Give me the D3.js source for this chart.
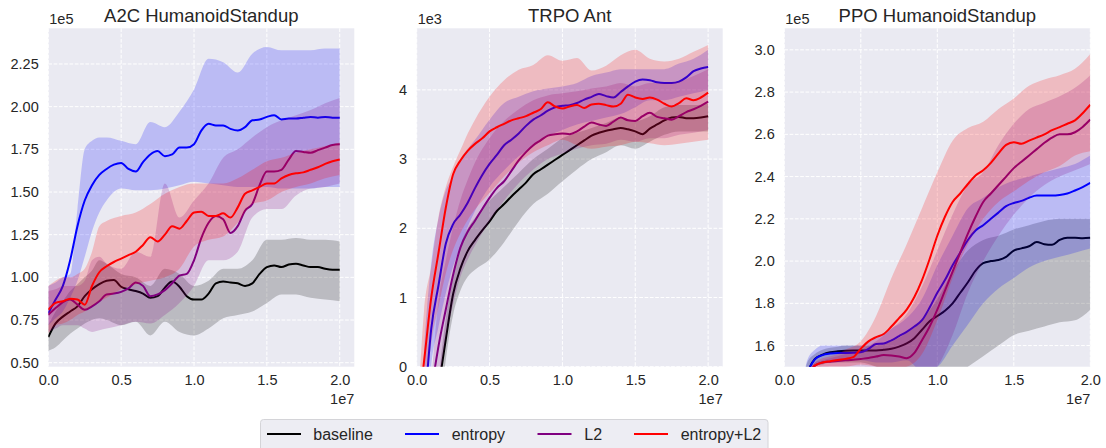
<!DOCTYPE html>
<html>
<head>
<meta charset="utf-8">
<script src="https://cdn.jsdelivr.net/npm/d3@7"></script>
<style>
  html, body { margin: 0; padding: 0; background: #ffffff; }
  svg { display: block; }
</style>
</head>
<body>
<svg id="chart" width="1106" height="448"></svg>
<script>
// ---------------- DATA ----------------
const seriesNames = ["baseline", "entropy", "L2", "entropy+L2"];
const seriesColors = ["#000000", "#0000ff", "#800080", "#ff0000"];
const panelTitles = ["A2C HumanoidStandup", "TRPO Ant", "PPO HumanoidStandup"];
const yScaleLabels = ["1e5", "1e3", "1e5"];
const xScaleLabel = "1e7";
const xTicks = [0, 0.5, 1.0, 1.5, 2.0];
const a2cYTicks = [0.5, 0.75, 1.0, 1.25, 1.5, 1.75, 2.0, 2.25];
const trpoYTicks = [0, 1, 2, 3, 4];
const ppoYTicks = [1.6, 1.8, 2.0, 2.2, 2.4, 2.6, 2.8, 3.0];

// timesteps (x 1e7) for mean curves
const tMean = [0,0.05,0.1,0.15,0.2,0.25,0.3,0.35,0.4,0.45,0.5,0.55,0.6,0.65,0.7,0.75,0.8,0.85,0.9,0.95,
  1.0,1.05,1.1,1.15,1.2,1.25,1.3,1.35,1.4,1.45,1.5,1.55,1.6,1.65,1.7,1.75,1.8,1.85,1.9,1.95,2.0];
// timesteps (x 1e7) for the shaded bands
const tBand = [0,0.05,0.1,0.15,0.2,0.25,0.3,0.35,0.4,0.5,0.6,0.7,0.8,0.9,1.0,1.1,1.2,1.3,1.4,1.5,1.6,1.7,1.8,1.9,2.0];

// A2C HumanoidStandup (x 1e5)
const a2cBaseline = [0.65,0.73,0.77,0.80,0.83,0.89,0.93,0.96,0.98,0.985,0.945,0.93,0.92,0.905,0.88,0.89,0.94,0.975,0.945,0.89,
  0.87,0.87,0.905,0.965,0.975,0.97,0.965,0.95,0.965,1.02,1.06,1.07,1.06,1.075,1.08,1.07,1.06,1.06,1.05,1.045,1.045];
const a2cEntropy = [0.79,0.87,0.95,1.10,1.30,1.45,1.54,1.60,1.635,1.66,1.67,1.635,1.62,1.675,1.72,1.74,1.71,1.72,1.76,1.76,
  1.78,1.86,1.90,1.89,1.89,1.87,1.86,1.88,1.92,1.925,1.94,1.95,1.925,1.93,1.93,1.935,1.94,1.935,1.94,1.935,1.935];
const a2cL2 = [0.78,0.82,0.855,0.87,0.84,0.81,0.83,0.86,0.90,0.905,0.915,0.935,0.97,0.95,0.89,0.90,0.925,0.965,1.01,1.02,
  1.10,1.23,1.32,1.36,1.34,1.26,1.30,1.39,1.43,1.54,1.62,1.62,1.63,1.69,1.74,1.735,1.73,1.745,1.76,1.775,1.78];
const a2cEntL2 = [0.81,0.85,0.86,0.875,0.87,0.84,0.95,1.03,1.065,1.09,1.11,1.13,1.15,1.19,1.235,1.21,1.25,1.30,1.285,1.33,
  1.38,1.385,1.36,1.36,1.375,1.35,1.41,1.49,1.51,1.53,1.55,1.55,1.58,1.60,1.61,1.615,1.63,1.645,1.665,1.68,1.69];
const a2cBaselineLo = [0.57,0.59,0.63,0.67,0.70,0.73,0.75,0.76,0.75,0.72,0.74,0.66,0.74,0.68,0.66,0.70,0.76,0.78,0.80,0.85,0.90,0.90,0.88,0.87,0.86];
const a2cBaselineHi = [0.72,0.80,0.86,0.92,0.96,1.00,1.04,1.10,1.08,1.02,1.00,0.95,1.05,1.02,0.95,0.98,1.05,1.05,1.10,1.22,1.22,1.23,1.22,1.22,1.21];
const a2cEntropyLo = [0.72,0.76,0.80,0.88,0.98,1.12,1.27,1.38,1.45,1.52,1.51,1.51,1.52,1.54,1.56,1.55,1.54,1.53,1.53,1.53,1.52,1.52,1.52,1.53,1.53];
const a2cEntropyHi = [0.95,0.97,1.00,1.02,1.40,1.75,1.80,1.82,1.82,1.80,1.78,1.91,1.88,1.97,2.10,2.28,2.26,2.20,2.31,2.35,2.33,2.33,2.33,2.34,2.34];
const a2cL2Lo = [0.68,0.70,0.72,0.72,0.72,0.70,0.68,0.69,0.70,0.72,0.74,0.73,0.78,0.85,0.95,1.10,1.10,1.15,1.35,1.40,1.40,1.48,1.52,1.53,1.55];
const a2cL2Hi = [0.92,0.93,0.95,0.95,0.95,0.98,1.10,1.12,1.08,1.05,1.15,1.12,1.55,1.35,1.45,1.55,1.70,1.75,1.82,1.88,1.92,1.95,1.98,2.02,2.05];
const a2cEntL2Lo = [0.67,0.72,0.73,0.75,0.78,0.80,0.83,0.86,0.88,0.93,0.96,0.98,1.00,1.05,1.18,1.22,1.24,1.32,1.43,1.45,1.50,1.53,1.55,1.58,1.60];
const a2cEntL2Hi = [0.95,0.98,1.00,1.00,1.02,1.05,1.15,1.30,1.33,1.36,1.38,1.43,1.49,1.53,1.55,1.55,1.55,1.58,1.63,1.68,1.70,1.73,1.75,1.77,1.79];

// TRPO Ant (x 1e3)
const trpoBaseline = [-1.5,-1.3,-1.0,-0.3,0.4,1.05,1.42,1.67,1.83,1.97,2.10,2.25,2.35,2.46,2.56,2.66,2.78,2.85,2.92,2.99,
  3.06,3.13,3.20,3.27,3.34,3.38,3.41,3.43,3.45,3.43,3.40,3.36,3.44,3.50,3.56,3.60,3.61,3.59,3.59,3.60,3.62];
const trpoEntropy = [-2.0,-0.7,0.55,1.18,1.78,2.06,2.20,2.37,2.58,2.77,2.93,3.06,3.20,3.28,3.37,3.48,3.57,3.63,3.70,3.75,
  3.77,3.78,3.81,3.86,3.90,3.94,3.91,3.89,3.97,4.05,4.12,4.15,4.14,4.11,4.10,4.10,4.12,4.18,4.27,4.31,4.33];
const trpoL2 = [-2.0,-1.5,-0.4,0.3,0.83,1.33,1.72,1.95,2.11,2.28,2.44,2.58,2.68,2.83,2.98,3.10,3.20,3.27,3.34,3.36,
  3.37,3.36,3.40,3.47,3.53,3.50,3.48,3.54,3.60,3.56,3.55,3.62,3.67,3.61,3.59,3.57,3.62,3.68,3.72,3.77,3.83];
const trpoEntL2 = [-0.8,0.07,1.0,1.65,2.30,2.78,2.98,3.12,3.22,3.30,3.40,3.46,3.51,3.56,3.59,3.62,3.67,3.72,3.82,3.76,
  3.73,3.76,3.78,3.74,3.79,3.80,3.78,3.76,3.80,3.93,3.89,3.87,3.89,3.86,3.80,3.76,3.81,3.88,3.85,3.89,3.96];
const trpoBaselineLo = [-2,-2,-2,-0.8,0.1,0.75,1.1,1.3,1.4,1.55,1.8,2.1,2.35,2.5,2.68,2.85,3.0,3.1,3.2,3.15,3.25,3.35,3.4,3.4,3.4];
const trpoBaselineHi = [-2,-2,-1.5,-0.2,0.7,1.3,1.75,2.0,2.15,2.4,2.6,2.8,3.0,3.15,3.3,3.38,3.45,3.52,3.6,3.55,3.62,3.75,3.78,3.78,3.8];
const trpoEntropyLo = [-2,-1.5,0,0.58,1.06,1.45,1.73,2.02,2.25,2.6,2.84,3.04,3.18,3.33,3.42,3.5,3.55,3.6,3.65,3.75,3.85,3.85,3.9,3.95,4.0];
const trpoEntropyHi = [-2,0.2,1.5,2.15,2.55,2.75,3.0,3.15,3.28,3.57,3.81,3.9,3.98,4.02,4.05,4.1,4.2,4.25,4.3,4.3,4.3,4.3,4.38,4.45,4.58];
const trpoL2Lo = [-2,-2,-1,-0.3,0.4,0.9,1.3,1.55,1.75,2.1,2.4,2.65,2.85,3.0,3.08,3.15,3.2,3.22,3.28,3.25,3.3,3.3,3.35,3.38,3.42];
const trpoL2Hi = [-2,-1.5,-0.2,0.96,1.54,2.02,2.41,2.7,2.95,3.3,3.55,3.72,3.85,3.92,3.95,3.98,4.02,4.05,4.1,4.05,4.1,4.1,4.12,4.2,4.3];
const trpoEntL2Lo = [-1,-0.6,0.34,0.87,1.35,1.69,1.93,2.12,2.27,2.51,2.75,2.95,3.1,3.2,3.28,3.2,3.15,3.18,3.2,3.25,3.23,3.2,3.22,3.25,3.28];
const trpoEntL2Hi = [-1,0.8,1.45,2.17,2.6,2.89,3.13,3.37,3.57,3.9,4.14,4.29,4.36,4.5,4.42,4.46,4.28,4.35,4.5,4.58,4.45,4.41,4.45,4.55,4.65];

// PPO HumanoidStandup (x 1e5)
const ppoBaseline = [1.2,1.25,1.35,1.47,1.537,1.557,1.568,1.573,1.576,1.577,1.577,1.577,1.577,1.58,1.585,1.595,1.61,1.635,1.675,1.715,
  1.74,1.765,1.80,1.85,1.90,1.955,1.99,2.00,2.005,2.02,2.05,2.06,2.07,2.09,2.08,2.077,2.10,2.11,2.11,2.108,2.11];
const ppoEntropy = [1.2,1.25,1.35,1.47,1.535,1.555,1.562,1.565,1.565,1.566,1.568,1.584,1.608,1.61,1.625,1.645,1.665,1.69,1.72,1.78,
  1.85,1.91,1.98,2.04,2.10,2.145,2.17,2.20,2.23,2.26,2.275,2.285,2.30,2.31,2.31,2.31,2.313,2.32,2.334,2.35,2.37];
const ppoL2 = [1.2,1.25,1.3,1.45,1.505,1.52,1.524,1.527,1.53,1.533,1.537,1.541,1.548,1.555,1.553,1.548,1.54,1.565,1.625,1.69,
  1.77,1.86,1.95,2.04,2.13,2.21,2.28,2.32,2.36,2.40,2.44,2.47,2.50,2.53,2.56,2.585,2.60,2.60,2.61,2.635,2.67];
const ppoEntL2 = [1.2,1.25,1.3,1.45,1.505,1.52,1.526,1.532,1.537,1.545,1.585,1.62,1.64,1.655,1.69,1.73,1.77,1.83,1.91,2.01,
  2.12,2.21,2.28,2.32,2.365,2.405,2.43,2.465,2.51,2.55,2.563,2.555,2.57,2.585,2.60,2.62,2.634,2.65,2.666,2.70,2.74];
const ppoBaselineLo = [1.2,1.25,1.35,1.45,1.5,1.51,1.52,1.52,1.52,1.52,1.5,1.47,1.45,1.42,1.4,1.45,1.5,1.55,1.6,1.65,1.67,1.69,1.71,1.72,1.77];
const ppoBaselineHi = [1.2,1.25,1.35,1.52,1.56,1.58,1.59,1.595,1.6,1.6,1.6,1.62,1.66,1.72,1.82,1.95,2.05,2.1,2.12,2.15,2.17,2.19,2.2,2.2,2.2];
const ppoEntropyLo = [1.2,1.25,1.35,1.46,1.5,1.52,1.53,1.53,1.53,1.53,1.52,1.52,1.53,1.48,1.5,1.6,1.7,1.8,1.87,1.92,1.97,2.0,2.02,2.04,2.06];
const ppoEntropyHi = [1.2,1.25,1.35,1.53,1.58,1.6,1.6,1.6,1.6,1.6,1.64,1.68,1.73,1.82,1.98,2.12,2.25,2.3,2.35,2.38,2.4,2.42,2.44,2.46,2.5];
const ppoL2Lo = [1.2,1.25,1.3,1.44,1.48,1.49,1.5,1.5,1.5,1.5,1.49,1.47,1.45,1.45,1.5,1.65,1.85,2.0,2.12,2.22,2.3,2.36,2.4,2.43,2.46];
const ppoL2Hi = [1.2,1.25,1.3,1.46,1.52,1.53,1.54,1.55,1.56,1.58,1.62,1.68,1.75,1.88,2.05,2.22,2.36,2.42,2.55,2.65,2.72,2.75,2.78,2.82,2.88];
const ppoEntL2Lo = [1.2,1.25,1.3,1.44,1.48,1.5,1.5,1.5,1.5,1.51,1.5,1.49,1.5,1.56,1.72,1.92,2.08,2.2,2.28,2.33,2.38,2.42,2.45,2.5,2.52];
const ppoEntL2Hi = [1.2,1.25,1.3,1.46,1.52,1.54,1.55,1.56,1.58,1.62,1.74,1.92,2.08,2.25,2.42,2.57,2.63,2.66,2.72,2.77,2.83,2.86,2.88,2.91,2.98];

// ---------------- LAYOUT ----------------
const FONT = '"Liberation Sans", Arial, Helvetica, sans-serif';
const TEXT = "#262626";
const BG = "#eaeaf2";
const panelLefts = [48.3, 416.7, 784.3];
const panelW = 306, panelTop = 28.3, panelH = 338.4;

const panels = [
  { xMax: 2.1, yDomain: [0.4766, 2.459], yTicks: a2cYTicks, fmt: d3.format(".2f"),
    means: [a2cBaseline, a2cEntropy, a2cL2, a2cEntL2],
    lo: [a2cBaselineLo, a2cEntropyLo, a2cL2Lo, a2cEntL2Lo],
    hi: [a2cBaselineHi, a2cEntropyHi, a2cL2Hi, a2cEntL2Hi] },
  { xMax: 2.1, yDomain: [0, 4.89], yTicks: trpoYTicks, fmt: d3.format("d"),
    means: [trpoBaseline, trpoEntropy, trpoL2, trpoEntL2],
    lo: [trpoBaselineLo, trpoEntropyLo, trpoL2Lo, trpoEntL2Lo],
    hi: [trpoBaselineHi, trpoEntropyHi, trpoL2Hi, trpoEntL2Hi] },
  { xMax: 2.0, yDomain: [1.5, 3.102], yTicks: ppoYTicks, fmt: d3.format(".1f"),
    means: [ppoBaseline, ppoEntropy, ppoL2, ppoEntL2],
    lo: [ppoBaselineLo, ppoEntropyLo, ppoL2Lo, ppoEntL2Lo],
    hi: [ppoBaselineHi, ppoEntropyHi, ppoL2Hi, ppoEntL2Hi] }
];

const svg = d3.select("#chart");
const defs = svg.append("defs");

panels.forEach((p, pi) => {
  const g = svg.append("g").attr("transform", `translate(${panelLefts[pi]},${panelTop})`);
  const x = d3.scaleLinear().domain([0, p.xMax]).range([0, panelW]);
  const y = d3.scaleLinear().domain(p.yDomain).range([panelH, 0]);

  g.append("rect").attr("width", panelW).attr("height", panelH).attr("fill", BG);

  // grid
  g.append("g").selectAll("line").data(p.yTicks).join("line")
    .attr("x1", 0).attr("x2", panelW)
    .attr("y1", d => y(d)).attr("y2", d => y(d))
    .attr("stroke", "#ffffff").attr("stroke-width", 1).attr("stroke-dasharray", "3.7,1.6");
  g.append("g").selectAll("line").data(xTicks).join("line")
    .attr("y1", 0).attr("y2", panelH)
    .attr("x1", d => x(d)).attr("x2", d => x(d))
    .attr("stroke", "#ffffff").attr("stroke-width", 1).attr("stroke-dasharray", "3.7,1.6");

  const clipId = "clip" + pi;
  defs.append("clipPath").attr("id", clipId)
    .append("rect").attr("width", panelW).attr("height", panelH);
  const data = g.append("g").attr("clip-path", `url(#${clipId})`);

  const area = d3.area().x(d => x(d[0])).y0(d => y(d[1])).y1(d => y(d[2])).curve(d3.curveMonotoneX);
  const line = d3.line().x(d => x(d[0])).y(d => y(d[1])).curve(d3.curveMonotoneX);

  seriesNames.forEach((name, si) => {
    const band = tBand.map((t, i) => [t, p.lo[si][i], p.hi[si][i]]);
    data.append("path").datum(band).attr("d", area)
      .attr("fill", seriesColors[si]).attr("fill-opacity", 0.2).attr("stroke", "none");
    const mean = tMean.map((t, i) => [t, p.means[si][i]]);
    data.append("path").datum(mean).attr("d", line)
      .attr("fill", "none").attr("stroke", seriesColors[si]).attr("stroke-width", 2)
      .attr("stroke-linejoin", "round");
  });

  // axes
  const yAxis = g.append("g").call(d3.axisLeft(y).tickValues(p.yTicks).tickSize(0).tickPadding(9.6).tickFormat(p.fmt));
  yAxis.select(".domain").remove();
  yAxis.selectAll("text").attr("font-family", FONT).attr("font-size", 14.5).attr("fill", TEXT);

  const xAxis = g.append("g").attr("transform", `translate(0,${panelH})`)
    .call(d3.axisBottom(x).tickValues(xTicks).tickSize(0).tickPadding(8).tickFormat(d3.format(".1f")));
  xAxis.select(".domain").remove();
  xAxis.selectAll("text").attr("font-family", FONT).attr("font-size", 14.5).attr("fill", TEXT);

  // titles & offset labels
  g.append("text").attr("x", panelW / 2).attr("y", 21.7 - panelTop)
    .attr("text-anchor", "middle").attr("font-family", FONT).attr("font-size", 18.5).attr("fill", TEXT)
    .text(panelTitles[pi]);
  g.append("text").attr("x", 1).attr("y", 24 - panelTop)
    .attr("font-family", FONT).attr("font-size", 14.5).attr("fill", TEXT).text(yScaleLabels[pi]);
  g.append("text").attr("x", panelW).attr("y", 404 - panelTop).attr("text-anchor", "end")
    .attr("font-family", FONT).attr("font-size", 14.5).attr("fill", TEXT).text(xScaleLabel);
});

// legend
const legend = svg.append("g");
legend.append("rect").attr("x", 260.5).attr("y", 419.5).attr("width", 507.5).attr("height", 40)
  .attr("rx", 3).attr("fill", "#ededf3").attr("stroke", "#d4d4d8").attr("stroke-width", 1);
const legendLineX = [267, 405, 537.5, 634];
const legendTextX = [313.3, 451.7, 584.3, 680.7];
seriesNames.forEach((name, i) => {
  legend.append("line").attr("x1", legendLineX[i]).attr("x2", legendLineX[i] + 34)
    .attr("y1", 434).attr("y2", 434).attr("stroke", seriesColors[i]).attr("stroke-width", 2);
  legend.append("text").attr("x", legendTextX[i]).attr("y", 440)
    .attr("font-family", FONT).attr("font-size", 16).attr("fill", TEXT).text(name);
});
</script>
</body>
</html>
